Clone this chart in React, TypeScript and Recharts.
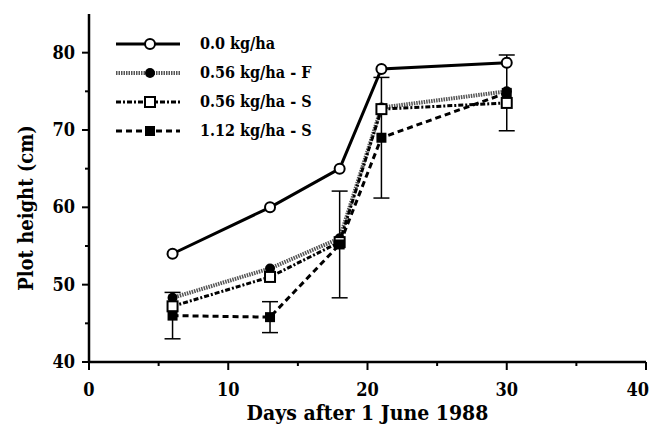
import { LineChart, Line, XAxis, YAxis, ErrorBar, Legend } from "recharts";

// Days after 1 June 1988
const days = [6, 13, 18, 21, 30];
// plot height (cm) per treatment
const rate00 = [54, 60, 65, 77.9, 78.7];
const rate056F = [48.3, 52.1, 56, 72.9, 75];
const rate056S = [47.2, 51, 55.5, 72.7, 73.5];
const rate112S = [46, 45.8, 55.2, 69, 74.8];
const rate112SErr = [3, 2, 6.9, 7.8, 4.9];

const seriesNames = ["0.0 kg/ha", "0.56 kg/ha - F", "0.56 kg/ha - S", "1.12 kg/ha - S"];
const xTicks = [0, 5, 10, 15, 20, 25, 30, 35, 40];
const yTicks = [40, 45, 50, 55, 60, 65, 70, 75, 80];

const FONT = "'DejaVu Serif Condensed', 'DejaVu Serif', serif";

const chartData = days.map((day, i) => ({
  day,
  r00: rate00[i],
  r056F: rate056F[i],
  r056S: rate056S[i],
  r112S: rate112S[i],
  err: rate112SErr[i],
}));

type MarkerKind = "openCircle" | "filledCircle" | "openSquare" | "filledSquare";

const series: { key: string; stroke: string; width: number; dash?: string; marker: MarkerKind }[] = [
  { key: "r00", stroke: "#000", width: 3, marker: "openCircle" },
  { key: "r056F", stroke: "#555", width: 4, dash: "1.5 1", marker: "filledCircle" },
  { key: "r056S", stroke: "#000", width: 3, dash: "5 2 2 2", marker: "openSquare" },
  { key: "r112S", stroke: "#000", width: 3, dash: "6 4", marker: "filledSquare" },
];

function Marker({ kind, cx, cy }: { kind: MarkerKind; cx: number; cy: number }) {
  if (cx == null || cy == null) return null;
  switch (kind) {
    case "openCircle":
      return <circle cx={cx} cy={cy} r={5} fill="#fff" stroke="#000" strokeWidth={2} />;
    case "filledCircle":
      return <circle cx={cx} cy={cy} r={5} fill="#000" />;
    case "openSquare":
      return <rect x={cx - 5} y={cy - 5} width={10} height={10} fill="#fff" stroke="#000" strokeWidth={2} />;
    default:
      return <rect x={cx - 5} y={cy - 5} width={10} height={10} fill="#000" />;
  }
}

const X_TICK_SIZE = 8;
const X_TICK_MARGIN = 12;
const Y_TICK_SIZE = 6;
const Y_TICK_MARGIN = 8;

const XTick = (props: any) => {
  const { x, y, payload } = props;
  const axisY = y - X_TICK_SIZE - X_TICK_MARGIN;
  const major = payload.value % 10 === 0;
  // last label sits on the right edge, keep it inside the picture
  const last = payload.value === xTicks[xTicks.length - 1];
  return (
    <g>
      <line x1={x} x2={x} y1={axisY} y2={axisY + (major ? 8 : 4)} stroke="#000" strokeWidth={2} />
      {major && (
        <text
          x={last ? x + 3 : x}
          y={axisY + 34}
          textAnchor={last ? "end" : "middle"}
          fontFamily={FONT}
          fontWeight="bold"
          fontSize={18}
          fill="#000"
        >
          {payload.value}
        </text>
      )}
    </g>
  );
};

const YTick = (props: any) => {
  const { x, y, payload } = props;
  const axisX = x + Y_TICK_SIZE + Y_TICK_MARGIN;
  const major = payload.value % 10 === 0;
  return (
    <g>
      <line x1={axisX} x2={axisX - (major ? 7 : 4)} y1={y} y2={y} stroke="#000" strokeWidth={2} />
      {major && (
        <text x={axisX - 14} y={y + 6} textAnchor="end" fontFamily={FONT} fontWeight="bold" fontSize={18} fill="#000">
          {payload.value}
        </text>
      )}
    </g>
  );
};

const renderLegend = () => (
  <div style={{ fontFamily: FONT, fontWeight: "bold", fontSize: 16 }}>
    {series.map((s, i) => (
      <div key={s.key} style={{ display: "flex", alignItems: "center", height: 29 }}>
        <svg width={80} height={16}>
          <line x1={6} x2={70} y1={8} y2={8} stroke={s.stroke} strokeWidth={s.width} strokeDasharray={s.dash} />
          <Marker kind={s.marker} cx={40} cy={8} />
        </svg>
        <span style={{ marginLeft: 10 }}>{seriesNames[i]}</span>
      </div>
    ))}
  </div>
);

export default function App() {
  return (
    <div style={{ position: "absolute", left: 0, top: 0, background: "#fff" }}>
      <LineChart width={650} height={426} data={chartData} margin={{ top: 14, right: 4, bottom: 0, left: 29 }}>
        <XAxis
          dataKey="day"
          type="number"
          domain={[0, 40]}
          ticks={xTicks}
          interval={0}
          height={64}
          axisLine={{ stroke: "#000", strokeWidth: 2.5 }}
          tickLine={false}
          tickSize={X_TICK_SIZE}
          tickMargin={X_TICK_MARGIN}
          tick={<XTick />}
          label={{
            content: (p: any) => (
              <text
                x={p.viewBox.x + p.viewBox.width / 2}
                y={p.viewBox.y + 58}
                textAnchor="middle"
                fontFamily={FONT}
                fontWeight="bold"
                fontSize={21}
                fill="#000"
              >
                Days after 1 June 1988
              </text>
            ),
          }}
        />
        <XAxis xAxisId="frame" orientation="top" type="number" domain={[0, 40]} height={0} tick={false} tickLine={false} axisLine={{ stroke: "#000", strokeWidth: 1.5 }} />
        <YAxis
          type="number"
          domain={[40, 85]}
          ticks={yTicks}
          interval={0}
          width={60}
          axisLine={{ stroke: "#000", strokeWidth: 2.5 }}
          tickLine={false}
          tickSize={Y_TICK_SIZE}
          tickMargin={Y_TICK_MARGIN}
          tick={<YTick />}
          label={{
            content: (p: any) => {
              const cx = p.viewBox.x - 2;
              const cy = 208;
              return (
                <text
                  x={cx}
                  y={cy}
                  transform={`rotate(-90 ${cx} ${cy})`}
                  textAnchor="middle"
                  dominantBaseline="middle"
                  fontFamily={FONT}
                  fontWeight="bold"
                  fontSize={20}
                  fill="#000"
                >
                  Plot height (cm)
                </text>
              );
            },
          }}
        />
        <YAxis yAxisId="frame" orientation="right" type="number" domain={[40, 85]} width={0} tick={false} tickLine={false} axisLine={{ stroke: "#000", strokeWidth: 1.5 }} />
        <Legend
          layout="vertical"
          align="center"
          verticalAlign="middle"
          content={renderLegend}
          wrapperStyle={{ left: 110, top: 29, width: 260 }}
        />
        {series.map((s) => (
          <Line
            key={s.key}
            dataKey={s.key}
            type="linear"
            stroke={s.stroke}
            strokeWidth={s.width}
            strokeDasharray={s.dash}
            isAnimationActive={false}
            dot={(p: any) => <Marker key={`${s.key}-${p.index}`} kind={s.marker} cx={p.cx} cy={p.cy} />}
            activeDot={false}
          >
            {s.key === "r112S" && <ErrorBar dataKey="err" direction="y" width={8} stroke="#000" strokeWidth={1.5} />}
          </Line>
        ))}
      </LineChart>
    </div>
  );
}
